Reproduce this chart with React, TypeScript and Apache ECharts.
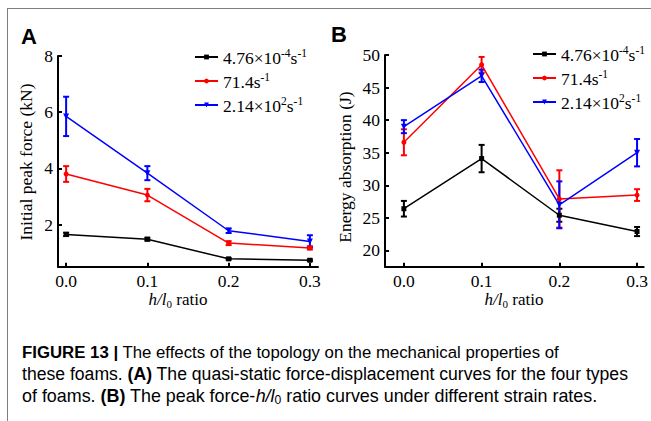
import React, { useEffect, useRef } from "react";
import * as echarts from "echarts";

// ---- data ----
const hRatio = [0, 0.1, 0.2, 0.3];
const xTickValues = [0, 0.1, 0.2, 0.3];
const forceTicks = [2, 4, 6, 8];
const energyTicks = [20, 25, 30, 35, 40, 45, 50];

const rateNames = ["4.76×10⁻⁴s⁻¹", "71.4s⁻¹", "2.14×10²s⁻¹"];
const rateLegendRich = [
  "{n|4.76×10}{s|-4}{n|s}{s|-1}",
  "{n|71.4s}{s|-1}",
  "{n|2.14×10}{s|2}{n|s}{s|-1}",
];

const forceLow = [1.65, 1.48, 0.78, 0.73];
const forceLowErr = [0.06, 0.05, 0.03, 0.03];
const forceMid = [3.8, 3.05, 1.34, 1.17];
const forceMidErr = [0.28, 0.22, 0.07, 0.06];
const forceHigh = [5.85, 3.83, 1.78, 1.4];
const forceHighErr = [0.7, 0.25, 0.08, 0.22];

const energyLow = [26.4, 34.1, 25.4, 22.9];
const energyLowErr = [1.2, 2.1, 1.0, 0.7];
const energyMid = [36.6, 48.5, 27.9, 28.5];
const energyMidErr = [2.0, 1.2, 4.4, 0.9];
const energyHigh = [39.0, 46.8, 27.0, 35.0];
const energyHighErr = [1.0, 0.95, 3.6, 2.1];

const colors = ["#000000", "#ff0000", "#0000ff"];
const symbols = ["rect", "circle", "triangle"];
const symbolRotates = [0, 0, 180];
const symbolSizes = [5, 5, 6];

const SERIF = "'Liberation Serif', 'Times New Roman', serif";
const SANS = "'Liberation Sans', Arial, sans-serif";

function errorSeries(values: number[], errs: number[], color: string, axisIdx: number) {
  return {
    type: "custom",
    xAxisIndex: axisIdx,
    yAxisIndex: axisIdx,
    silent: true,
    z: 3,
    data: hRatio.map((x, i) => [x, values[i] - errs[i], values[i] + errs[i]]),
    encode: { x: 0, y: [1, 2] },
    renderItem: (params: any, api: any) => {
      const x = api.value(0);
      const lo = api.value(1);
      const hi = api.value(2);
      const pHi = api.coord([x, hi]);
      const pLo = api.coord([x, lo]);
      const cap = 3;
      const st = { stroke: color, lineWidth: 2 };
      return {
        type: "group",
        children: [
          { type: "line", shape: { x1: pHi[0], y1: pHi[1], x2: pLo[0], y2: pLo[1] }, style: st },
          { type: "line", shape: { x1: pHi[0] - cap, y1: pHi[1], x2: pHi[0] + cap, y2: pHi[1] }, style: st },
          { type: "line", shape: { x1: pLo[0] - cap, y1: pLo[1], x2: pLo[0] + cap, y2: pLo[1] }, style: st },
        ],
      };
    },
  };
}

function lineSeries(idx: number, values: number[], axisIdx: number) {
  return {
    type: "line",
    name: rateNames[idx],
    xAxisIndex: axisIdx,
    yAxisIndex: axisIdx,
    data: hRatio.map((x, i) => [x, values[i]]),
    symbol: symbols[idx],
    symbolSize: symbolSizes[idx],
    symbolRotate: symbolRotates[idx],
    showSymbol: true,
    lineStyle: { color: colors[idx], width: 1.5 },
    itemStyle: { color: colors[idx] },
    z: 3,
  };
}

function xAxisCfg(gridIndex: number, min: number, max: number) {
  return {
    type: "value",
    gridIndex,
    min,
    max,
    axisLine: { show: true, onZero: false, lineStyle: { color: "#000", width: 2 } },
    axisTick: { show: true, inside: true, length: 4, lineStyle: { color: "#000", width: 2 }, customValues: xTickValues },
    axisLabel: {
      customValues: xTickValues,
      formatter: (v: number) => v.toFixed(1),
      fontFamily: SERIF,
      fontSize: 17.5,
      color: "#000",
      margin: 5,
    },
    splitLine: { show: false },
  };
}

function yAxisCfg(gridIndex: number, min: number, max: number, ticks: number[]) {
  return {
    type: "value",
    gridIndex,
    min,
    max,
    axisLine: { show: true, onZero: false, lineStyle: { color: "#000", width: 2 } },
    axisTick: { show: true, inside: true, length: 4, lineStyle: { color: "#000", width: 2 }, customValues: ticks },
    axisLabel: {
      customValues: ticks,
      fontFamily: SERIF,
      fontSize: 17.5,
      color: "#000",
      margin: 5,
    },
    splitLine: { show: false },
  };
}

const legendRich = {
  n: { fontFamily: SERIF, fontSize: 17.5, color: "#000", lineHeight: 20, verticalAlign: "bottom" },
  s: { fontFamily: SERIF, fontSize: 11.5, color: "#000", lineHeight: 20, verticalAlign: "top" },
};

function legendCfg(left: number, top: number) {
  return {
    orient: "vertical",
    left,
    top,
    padding: 0,
    itemWidth: 23,
    itemHeight: 6,
    itemGap: 4,
    data: rateNames,
    selectedMode: false,
    formatter: (name: string) => rateLegendRich[rateNames.indexOf(name)],
    textStyle: { fontFamily: SERIF, fontSize: 17.5, color: "#000", rich: legendRich },
  };
}

function captionRich(size: number) {
  return {
    r: { fontFamily: SANS, fontSize: size, color: "#231f20" },
    b: { fontFamily: SANS, fontSize: size, fontWeight: "bold", color: "#231f20" },
    i: { fontFamily: SANS, fontSize: size, fontStyle: "italic", color: "#231f20" },
    sub: { fontFamily: SANS, fontSize: size * 0.68, color: "#231f20", verticalAlign: "bottom", lineHeight: size + 2 },
  };
}

const axisTitleRich = {
  i: { fontFamily: SERIF, fontSize: 17, fontStyle: "italic", color: "#000", lineHeight: 20 },
  sub: { fontFamily: SERIF, fontSize: 11, color: "#000", lineHeight: 14, verticalAlign: "bottom" },
  r: { fontFamily: SERIF, fontSize: 17, color: "#000", lineHeight: 20 },
};

export default function App() {
  const ref = useRef<HTMLDivElement>(null);
  useEffect(() => {
    if (!ref.current) return;
    const chart = echarts.init(ref.current, undefined, { renderer: "svg" });
    const option: any = {
      animation: false,
      backgroundColor: "#ffffff",
      grid: [
        { left: 58, top: 56, width: 260, height: 210.7 },
        { left: 385, top: 55, width: 260, height: 211.7 },
      ],
      xAxis: [xAxisCfg(0, -0.01, 0.31), xAxisCfg(1, -0.0243, 0.3085)],
      yAxis: [yAxisCfg(0, 0.5, 8, forceTicks), yAxisCfg(1, 17.5, 50, energyTicks)],
      legend: [legendCfg(194, 47), legendCfg(532, 44)],
      series: [
        lineSeries(0, forceLow, 0),
        errorSeries(forceLow, forceLowErr, colors[0], 0),
        lineSeries(1, forceMid, 0),
        errorSeries(forceMid, forceMidErr, colors[1], 0),
        lineSeries(2, forceHigh, 0),
        errorSeries(forceHigh, forceHighErr, colors[2], 0),
        lineSeries(0, energyLow, 1),
        errorSeries(energyLow, energyLowErr, colors[0], 1),
        lineSeries(1, energyMid, 1),
        errorSeries(energyMid, energyMidErr, colors[1], 1),
        lineSeries(2, energyHigh, 1),
        errorSeries(energyHigh, energyHighErr, colors[2], 1),
      ],
      graphic: [
        { type: "line", shape: { x1: 8, y1: 8.5, x2: 651, y2: 8.5 }, style: { stroke: "#7f7f7f", lineWidth: 1 } },
        { type: "line", shape: { x1: 7.5, y1: 8, x2: 7.5, y2: 421 }, style: { stroke: "#7f7f7f", lineWidth: 1 } },
        {
          type: "text",
          x: 21,
          y: 36,
          style: { text: "A", fontFamily: SANS, fontSize: 22, fontWeight: "bold", fill: "#000", align: "left", verticalAlign: "middle" },
        },
        {
          type: "text",
          x: 331,
          y: 34,
          style: { text: "B", fontFamily: SANS, fontSize: 22, fontWeight: "bold", fill: "#000", align: "left", verticalAlign: "middle" },
        },
        {
          type: "text",
          x: 26,
          y: 162,
          rotation: Math.PI / 2,
          style: { text: "Initial peak force (kN)", fontFamily: SERIF, fontSize: 17.5, fill: "#000", align: "center", verticalAlign: "middle" },
        },
        {
          type: "text",
          x: 345,
          y: 167,
          rotation: Math.PI / 2,
          style: { text: "Energy absorption (J)", fontFamily: SERIF, fontSize: 17.5, fill: "#000", align: "center", verticalAlign: "middle" },
        },
        {
          type: "text",
          x: 178,
          y: 299,
          style: { text: "{i|h/l}{sub|0}{r| ratio}", rich: axisTitleRich, align: "center", verticalAlign: "middle" },
        },
        {
          type: "text",
          x: 514,
          y: 299,
          style: { text: "{i|h/l}{sub|0}{r| ratio}", rich: axisTitleRich, align: "center", verticalAlign: "middle" },
        },
        {
          type: "text",
          x: 22,
          y: 352,
          style: {
            text: "{b|FIGURE 13 |}{r| The effects of the topology on the mechanical properties of}",
            rich: captionRich(16.8),
            align: "left",
            verticalAlign: "middle",
          },
        },
        {
          type: "text",
          x: 22,
          y: 374,
          style: {
            text: "{r|these foams. }{b|(A)}{r| The quasi-static force-displacement curves for the four types}",
            rich: captionRich(17.6),
            align: "left",
            verticalAlign: "middle",
          },
        },
        {
          type: "text",
          x: 22,
          y: 396,
          style: {
            text: "{r|of foams. }{b|(B)}{r| The peak force-}{i|h/l}{sub|0}{r| ratio curves under different strain rates.}",
            rich: captionRich(17.9),
            align: "left",
            verticalAlign: "middle",
          },
        },
      ],
    };
    chart.setOption(option);
    return () => chart.dispose();
  }, []);
  return (
    <div
      ref={ref}
      style={{ position: "absolute", left: 0, top: 0, width: 651, height: 421, background: "#fff" }}
    />
  );
}
